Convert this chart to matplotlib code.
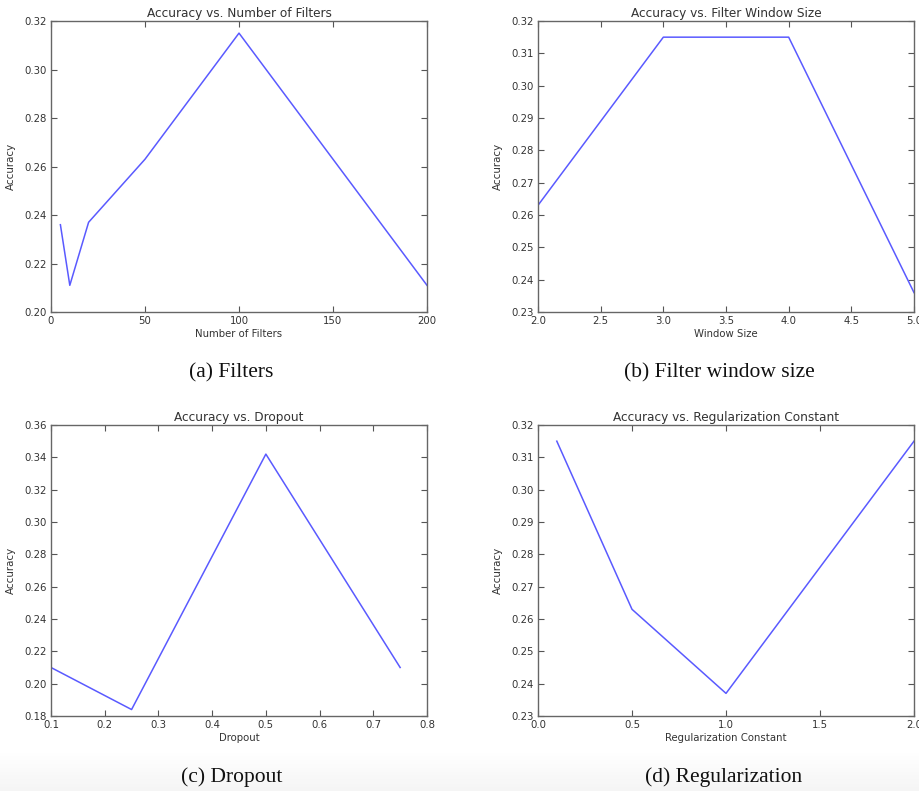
import matplotlib
matplotlib.use("Agg")
import matplotlib.pyplot as plt
import numpy as np

# Data
filters_x = [5, 10, 20, 50, 100, 200]
filters_y = [0.236, 0.211, 0.237, 0.263, 0.315, 0.211]

window_x = [2, 3, 4, 5]
window_y = [0.263, 0.315, 0.315, 0.236]

dropout_x = [0.1, 0.25, 0.5, 0.75]
dropout_y = [0.210, 0.184, 0.342, 0.210]

reg_x = [0.1, 0.5, 1.0, 2.0]
reg_y = [0.315, 0.263, 0.237, 0.315]

W, H = 920, 791
fig = plt.figure(figsize=(W / 100, H / 100), dpi=100)
fig.patch.set_facecolor("white")

# subtle gray gradient band at the bottom (scan artefact)
grad = np.linspace(0, 1, 50).reshape(-1, 1)
bg = fig.add_axes([0, 0, 1, 40 / H], zorder=-10)
bg.imshow(grad, aspect="auto", cmap="Greys", vmin=0, vmax=12, extent=[0, 1, 0, 1])
bg.axis("off")

def px_axes(l, t, r, b):
    return fig.add_axes([l / W, 1 - b / H, (r - l) / W, (b - t) / H])

panels = [
    dict(box=(51, 21, 427, 312), x=filters_x, y=filters_y, xlim=(0, 200), ylim=(0.20, 0.32),
         xt=[0, 50, 100, 150, 200], xfmt="%d", yt=np.arange(0.20, 0.321, 0.02),
         title="Accuracy vs. Number of Filters", xlabel="Number of Filters",
         cap="(a) Filters", capx=231, capy=373),
    dict(box=(538, 21, 914, 312), x=window_x, y=window_y, xlim=(2.0, 5.0), ylim=(0.23, 0.32),
         xt=np.arange(2.0, 5.01, 0.5), xfmt="%.1f", yt=np.arange(0.23, 0.3201, 0.01),
         title="Accuracy vs. Filter Window Size", xlabel="Window Size",
         cap="(b) Filter window size", capx=719, capy=373),
    dict(box=(51, 425, 427, 716), x=dropout_x, y=dropout_y, xlim=(0.1, 0.8), ylim=(0.18, 0.36),
         xt=np.arange(0.1, 0.801, 0.1), xfmt="%.1f", yt=np.arange(0.18, 0.3601, 0.02),
         title="Accuracy vs. Dropout", xlabel="Dropout",
         cap="(c) Dropout", capx=232, capy=777),
    dict(box=(538, 425, 914, 716), x=reg_x, y=reg_y, xlim=(0.0, 2.0), ylim=(0.23, 0.32),
         xt=np.arange(0.0, 2.01, 0.5), xfmt="%.1f", yt=np.arange(0.23, 0.3201, 0.01),
         title="Accuracy vs. Regularization Constant", xlabel="Regularization Constant",
         cap="(d) Regularization", capx=724, capy=777),
]

txt = "#333333"
for p in panels:
    ax = px_axes(*p["box"])
    ax.plot(p["x"], p["y"], color="#5a5aff", linewidth=1.1)
    ax.set_xlim(*p["xlim"])
    ax.set_ylim(*p["ylim"])
    ax.set_xticks(p["xt"])
    ax.set_yticks(p["yt"])
    ax.set_xticklabels([p["xfmt"] % v for v in p["xt"]])
    ax.set_yticklabels(["%.2f" % v for v in p["yt"]])
    ax.tick_params(direction="in", top=True, right=True, length=4, width=0.8,
                   labelsize=7.3, labelcolor=txt, pad=3, color="#555555")
    for s in ax.spines.values():
        s.set_color("#666666")
        s.set_linewidth(1.0)
    ax.set_title(p["title"], fontsize=8.7, color=txt, pad=3)
    ax.set_xlabel(p["xlabel"], fontsize=7.3, color=txt, labelpad=2)
    ax.set_ylabel("Accuracy", fontsize=7.4, color=txt)
    ax.yaxis.set_label_coords(-0.093, 0.5)
    fig.text(p["capx"] / W, 1 - p["capy"] / H, p["cap"], ha="center", va="center",
             fontsize=15.5, family="Liberation Serif", color="#111111")

fig.savefig("out.png", dpi=100, facecolor="white")
